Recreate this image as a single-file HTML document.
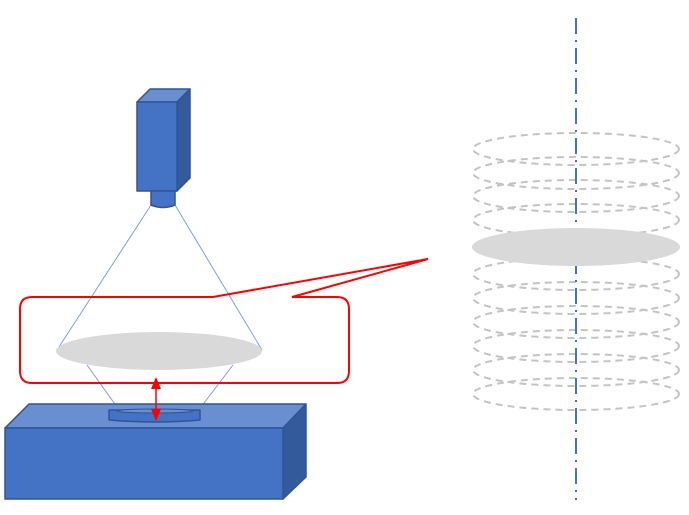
<!DOCTYPE html>
<html><head><meta charset="utf-8"><style>html,body{margin:0;padding:0;background:#fff}svg{display:block}</style></head>
<body>
<svg width="689" height="515" viewBox="0 0 689 515" xmlns="http://www.w3.org/2000/svg">
<!-- right stack -->
<g fill="none" stroke="#c4c4c4" stroke-width="2" stroke-dasharray="7,5">
<ellipse cx="576" cy="149" rx="103" ry="16"/>
<ellipse cx="576" cy="173" rx="103" ry="16"/>
<ellipse cx="576" cy="196" rx="103" ry="16"/>
<ellipse cx="576" cy="220" rx="103" ry="16"/>
<ellipse cx="576" cy="274" rx="103" ry="16"/>
<ellipse cx="576" cy="298" rx="103" ry="16"/>
<ellipse cx="576" cy="322" rx="103" ry="16"/>
<ellipse cx="576" cy="346" rx="103" ry="16"/>
<ellipse cx="576" cy="370" rx="103" ry="16"/>
<ellipse cx="576" cy="394" rx="103" ry="16"/>
</g>
<line x1="576" y1="18" x2="576" y2="500" stroke="#4472c4" stroke-width="2" stroke-dasharray="16,6,2,6"/>
<ellipse cx="576" cy="247" rx="104" ry="19" fill="#d9d9d9"/>
<!-- rays -->
<g stroke="#7f9fd8" stroke-width="1">
<line x1="151" y1="205" x2="57" y2="350"/>
<line x1="175" y1="205" x2="262" y2="350"/>
<line x1="87" y1="365" x2="117" y2="407"/>
<line x1="233" y1="365" x2="201" y2="407"/>
</g>
<ellipse cx="159" cy="351" rx="103" ry="19" fill="#d9d9d9"/>
<!-- callout -->
<path d="M32,297 H213 L428,259 L292,297 H337 Q349,297 349,309 V371 Q349,383 337,383 H32 Q20,383 20,371 V309 Q20,297 32,297 Z" fill="none" stroke="#ff0000" stroke-width="2"/>
<!-- camera -->
<g stroke="#2f5597" stroke-width="1.5" stroke-linejoin="round">
<polygon points="137,102 150,89 190,89 177,102" fill="#6a8fd0"/>
<polygon points="177,102 190,89 190,178 177,191" fill="#335a9a"/>
<rect x="137" y="102" width="40" height="89" fill="#4472c4"/>
<path d="M151,191 H175 V205 Q163,210 151,205 Z" fill="#4472c4"/>
<!-- base -->
<polygon points="5,428 29,404 306,404 283,428" fill="#6a8fd0"/>
<polygon points="283,428 306,404 306,477 283,499" fill="#335a9a"/>
<rect x="5" y="428" width="278" height="71" fill="#4472c4"/>
<path d="M109,410 H200 V420 Q155,424 109,420 Z" fill="#4472c4"/>
<ellipse cx="155" cy="411" rx="38" ry="2" fill="#6a8fd0" stroke-width="1"/>
</g>
<!-- arrow -->
<line x1="156" y1="386" x2="156" y2="412" stroke="#ff0000" stroke-width="1.5"/>
<polygon points="156,377 151,389 161,389" fill="#ff0000"/>
<polygon points="156,421 151,409 161,409" fill="#ff0000"/>
</svg>
</body></html>
